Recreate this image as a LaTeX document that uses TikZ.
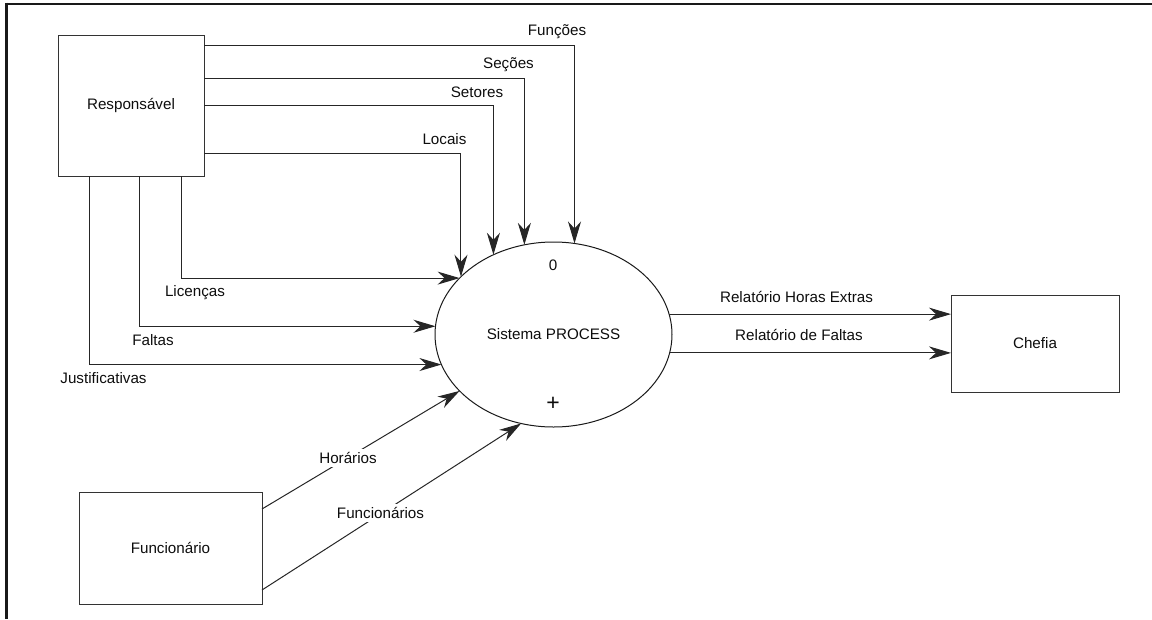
\documentclass[tikz,border=0pt]{standalone}
\usepackage{fontspec}
\setmainfont{Liberation Sans}
\usetikzlibrary{arrows.meta,shapes.geometric}
\begin{document}
\begin{tikzpicture}[x=1pt,y=-1pt,
  every node/.style={font=\fontsize{15.2}{18}\selectfont, text=black!95},
  ent/.style={draw=black!80, line width=1pt, inner sep=0pt, outer sep=0pt},
  proc/.style={draw=black!90, line width=1pt, ellipse, inner sep=0pt, outer sep=0pt,
    minimum width=237pt, minimum height=185pt},
  flow/.style={draw=black!85, line width=1pt,
    -{Stealth[length=22pt,width=13pt,inset=7pt]}},
  lbl/.style={inner sep=1pt},
  gaplbl/.style={fill=white, inner sep=3pt}
]
\useasboundingbox (0,0) rectangle (1152,619);

% page frame (top and left edges)
\draw[line width=2.5pt, black!90] (5,3.8) -- (1152,3.8);
\draw[line width=3pt, black!90] (6.5,2.6) -- (6.5,619);

% external entities and the process
\node[ent, minimum width=146pt, minimum height=141pt] (resp) at (131,105.5) {Responsável};
\node[ent, minimum width=183pt, minimum height=112pt] (func) at (170.5,548) {Funcionário};
\node[ent, minimum width=168pt, minimum height=97pt] (chefia) at (1035,343.5) {Chefia};
\node[proc] (sys) at (553.5,334.5) {Sistema PROCESS};
\node (pnum) at (553,265) {0};
\node[font=\fontsize{23}{26}\selectfont] (pplus) at (553,404) {+};

% flows from Responsável (right side, entering from above)
\draw[flow] ([yshift=-10pt]resp.north east) -| (sys.77.93);
\draw[flow] ([yshift=-43pt]resp.north east) -| (sys.108.22);
\draw[flow] ([yshift=-70pt]resp.north east) -| (sys.127.27);
\draw[flow] ([yshift=-118pt]resp.north east) -| (sys.148.72);

% flows from Responsável (bottom side, entering from the left)
\draw[flow] ([xshift=123pt]resp.south west) |- (sys.149.65);
\draw[flow] ([xshift=81pt]resp.south west) |- (sys.176.37);
\draw[flow] ([xshift=31pt]resp.south west) |- (sys.195.79);

% flows from Funcionário
\draw[flow] ([yshift=-17pt]func.north east) -- (sys.211.59);
\draw[flow] ([yshift=-98pt]func.north east) -- (sys.250.98);

% flows to Chefia
\draw[flow] (sys.10.56) -- (sys.10.56 -| chefia.west);
\draw[flow] (sys.351.95) -- (sys.351.95 -| chefia.west);

% flow labels
\node[lbl] (lfun) at (557,32) {Funções};
\node[lbl] (lsec) at (508.5,65) {Seções};
\node[lbl] (lset) at (477,92) {Setores};
\node[lbl] (lloc) at (444.5,139) {Locais};
\node[lbl] (llic) at (195,293) {Licenças};
\node[lbl] (lfal) at (153,340) {Faltas};
\node[lbl] (ljus) at (103.5,378) {Justificativas};
\node[gaplbl] (lhor) at (348,458) {Horários};
\node[gaplbl] (lfnc) at (380.5,513) {Funcionários};
\node[lbl] (lrhe) at (796.5,297) {Relatório Horas Extras};
\node[lbl] (lrdf) at (799,335) {Relatório de Faltas};
\end{tikzpicture}
\end{document}
